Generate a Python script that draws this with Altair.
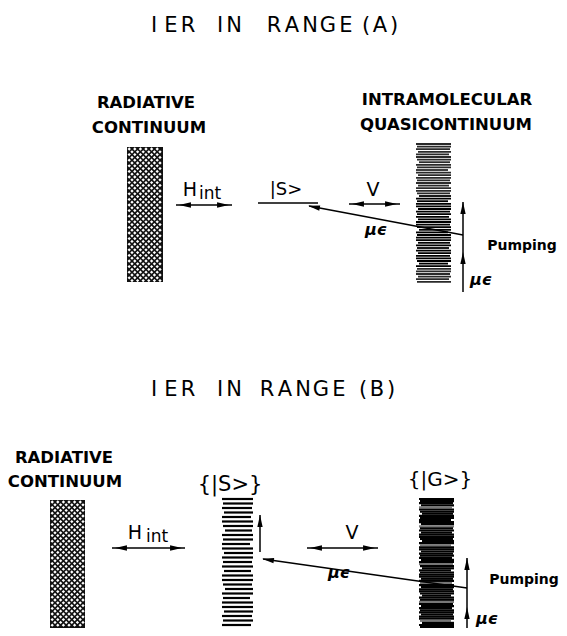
import altair as alt
import pandas as pd
import numpy as np

# ---------------- texts ----------------
TITLE_WORDS = ["IER", "IN", "RANGE", "(A)", "IER", "IN", "RANGE", "(B)"]
TITLE_X = [171, 227, 310, 380, 171, 227, 303, 377]
TITLE_Y = [26, 26, 26, 26, 390, 390, 390, 390]
TITLE_PITCH = [17, 14, 18, 14, 17, 14, 18, 14]

LABEL_TEXT = ["RADIATIVE", "CONTINUUM", "INTRAMOLECULAR", "QUASICONTINUUM",
              "RADIATIVE", "CONTINUUM"]
LABEL_X = [146, 149, 447, 446, 64, 65]
LABEL_Y = [103, 128, 100, 125, 458, 482]

KET_TEXT = ["|S>", "{|S>}", "{|G>}"]
KET_X = [286, 230, 440]
KET_Y = [190, 485, 480]
KET_SIZE = [18, 21, 20]

H_X, H_Y = [190, 135], [190, 533]
INT_X, INT_Y = [210, 157], [194, 537]
V_X, V_Y = [373, 352], [190, 533]
MU_X, MU_Y = [376, 481, 339, 487], [230, 280, 573, 619]
PUMP_X, PUMP_Y = [522, 524], [246, 580]

# ---------------- arrows / lines ----------------
DARROW_X1 = [176, 349, 112, 307]
DARROW_X2 = [232, 400, 185, 378]
DARROW_Y = [205, 204, 548, 548]

LEVEL_X1, LEVEL_X2, LEVEL_Y = [258], [318], [203]

DIAG_TIP_X = [309, 263]
DIAG_TIP_Y = [206, 559]
DIAG_END_X = [463, 467]
DIAG_END_Y = [235, 588]

VLINE_X = [463, 467, 260]
VLINE_Y1 = [202, 558, 515]
VLINE_Y2 = [292, 628, 552]
VHEAD_X = [463, 463, 467, 467, 260]
VHEAD_Y = [208, 258, 564, 613, 521]

# ---------------- bars ----------------
HATCH_L, HATCH_R = [127, 50], [163, 85]
HATCH_T, HATCH_B = [147, 500], [282, 628]

STRIPE_L = [416, 222, 419]
STRIPE_R = [451, 253, 454]
STRIPE_T = [143, 498, 498]
STRIPE_B = [283, 628, 628]
STRIPE_GAP = [2.6, 4.5, 2.1]
STRIPE_W = [1.8, 2.2, 2.2]

X0, X1, Y0, Y1 = 8, 559, 8, 628
W, H = X1 - X0, Y1 - Y0

xs = alt.Scale(domain=[X0, X1], nice=False, zero=False)
ys = alt.Scale(domain=[Y0, Y1], reverse=True, nice=False, zero=False)


def X(f="x"):
    return alt.X(f"{f}:Q", scale=xs, axis=None)


def Y(f="y"):
    return alt.Y(f"{f}:Q", scale=ys, axis=None)


def spaced(word, cx, cy, pitch, size=16):
    n = len(word)
    rows = []
    for i, ch in enumerate(word):
        rows.append({"x": cx + (i - (n - 1) / 2) * pitch, "y": cy, "t": ch, "s": size})
    return rows


def text_layer(rows, weight="normal", style="normal", font="DejaVu Sans"):
    return alt.Chart(pd.DataFrame(rows)).mark_text(
        font=font, fontWeight=weight, fontStyle=style, align="center",
        baseline="middle", color="black"
    ).encode(x=X(), y=Y(), text="t:N", size=alt.Size("s:Q", scale=None))


layers = []

# crosshatch bars: black rect + white diamond holes
hatch_rect = pd.DataFrame({"x": HATCH_L, "x2": HATCH_R, "y": HATCH_T, "y2": HATCH_B})
layers.append(alt.Chart(hatch_rect).mark_rect(color="#111").encode(
    x=X(), x2="x2:Q", y=Y(), y2="y2:Q"))
holes = []
s = 5.6
for l, r, t, b in zip(HATCH_L, HATCH_R, HATCH_T, HATCH_B):
    for j, yy in enumerate(np.arange(t + 2, b - 1, s / 2)):
        off = (j % 2) * s / 2
        for xx in np.arange(l + 2.2 + off, r - 1.5, s):
            holes.append({"x": xx, "y": yy})
layers.append(alt.Chart(pd.DataFrame(holes)).mark_point(
    shape="diamond", filled=True, color="white", size=11, opacity=1, strokeWidth=0
).encode(x=X(), y=Y()))

# striped bars
START_OFF = [0, 1, 0, 2, 0, 0, 1, 3, 0, 1, 0, 0, 2]
END_OFF = [0, 0, 1, 0, 2, 0, 0, 1, 0, 0, 3, 0]
stripes = []
for k, (l, r, t, b, g, w) in enumerate(zip(STRIPE_L, STRIPE_R, STRIPE_T, STRIPE_B,
                                           STRIPE_GAP, STRIPE_W)):
    for i, yy in enumerate(np.arange(t + 1, b, g)):
        col = "black"
        if k == 0 and not (195 < yy < 268):
            col = "#2a2a2a"
        if k == 2 and (i % 9 == 4):
            col = "#777777"
        stripes.append({"x": l + START_OFF[i % len(START_OFF)],
                        "x2": r - END_OFF[i % len(END_OFF)],
                        "y": yy, "y2": yy, "w": w, "c": col})
stripes_df = pd.DataFrame(stripes)
layers.append(alt.Chart(stripes_df).mark_rule().encode(
    x=X(), x2="x2:Q", y=Y(), y2="y2:Q",
    size=alt.Size("w:Q", scale=None), color=alt.Color("c:N", scale=None)))

# lines: double arrows, level, diagonals, verticals
lines = []
for a, b, y in zip(DARROW_X1, DARROW_X2, DARROW_Y):
    lines.append({"x": a, "x2": b, "y": y, "y2": y})
for a, b, y in zip(LEVEL_X1, LEVEL_X2, LEVEL_Y):
    lines.append({"x": a, "x2": b, "y": y, "y2": y})
for a, b, c, d in zip(DIAG_TIP_X, DIAG_TIP_Y, DIAG_END_X, DIAG_END_Y):
    lines.append({"x": a, "x2": c, "y": b, "y2": d})
for xv, a, b in zip(VLINE_X, VLINE_Y1, VLINE_Y2):
    lines.append({"x": xv, "x2": xv, "y": a, "y2": b})
layers.append(alt.Chart(pd.DataFrame(lines)).mark_rule(color="black", strokeWidth=1.5).encode(
    x=X(), x2="x2:Q", y=Y(), y2="y2:Q"))

# arrowheads
HEAD = "M-1,0L1,-0.45L1,0.45Z"
heads = []
for a, b, y in zip(DARROW_X1, DARROW_X2, DARROW_Y):
    heads.append({"x": a + 9, "y": y, "ang": 0})
    heads.append({"x": b - 9, "y": y, "ang": 180})
for a, b, c, d in zip(DIAG_TIP_X, DIAG_TIP_Y, DIAG_END_X, DIAG_END_Y):
    ang = float(np.degrees(np.arctan2(d - b, c - a)))
    heads.append({"x": a + 5 * np.cos(np.radians(ang)), "y": b + 5 * np.sin(np.radians(ang)),
                  "ang": ang})
for xv, yv in zip(VHEAD_X, VHEAD_Y):
    heads.append({"x": xv, "y": yv, "ang": 90})
layers.append(alt.Chart(pd.DataFrame(heads)).mark_point(
    shape=HEAD, filled=True, color="black", size=140, opacity=1, strokeWidth=0
).encode(x=X(), y=Y(), angle=alt.Angle("ang:Q", scale=None)))

# texts
title_rows = []
for wd, cx, cy, p in zip(TITLE_WORDS, TITLE_X, TITLE_Y, TITLE_PITCH):
    title_rows += spaced(wd, cx, cy, p, 21)
layers.append(text_layer(title_rows))

label_rows = [{"x": xx, "y": yy, "t": tt, "s": 16.5}
              for tt, xx, yy in zip(LABEL_TEXT, LABEL_X, LABEL_Y)]
layers.append(text_layer(label_rows, weight="bold"))

ket_rows = [{"x": xx, "y": yy, "t": tt, "s": sz}
            for tt, xx, yy, sz in zip(KET_TEXT, KET_X, KET_Y, KET_SIZE)]
layers.append(text_layer(ket_rows))

sym_rows = []
for xx, yy in zip(H_X, H_Y):
    sym_rows.append({"x": xx, "y": yy, "t": "H", "s": 19})
for xx, yy in zip(INT_X, INT_Y):
    sym_rows.append({"x": xx, "y": yy, "t": "int", "s": 17})
for xx, yy in zip(V_X, V_Y):
    sym_rows.append({"x": xx, "y": yy, "t": "V", "s": 19})
layers.append(text_layer(sym_rows))

mu_rows = [{"x": xx, "y": yy, "t": "μϵ", "s": 16} for xx, yy in zip(MU_X, MU_Y)]
layers.append(text_layer(mu_rows, weight="bold", style="italic"))

pump_rows = [{"x": xx, "y": yy, "t": "Pumping", "s": 14} for xx, yy in zip(PUMP_X, PUMP_Y)]
layers.append(text_layer(pump_rows, weight="bold"))

chart = alt.layer(*layers).properties(
    width=W, height=H, padding=0, background="white",
    autosize=alt.AutoSizeParams(type="none")
).configure_view(stroke=None)

chart.save("out.html", embed_options={"renderer": "svg", "actions": False})
